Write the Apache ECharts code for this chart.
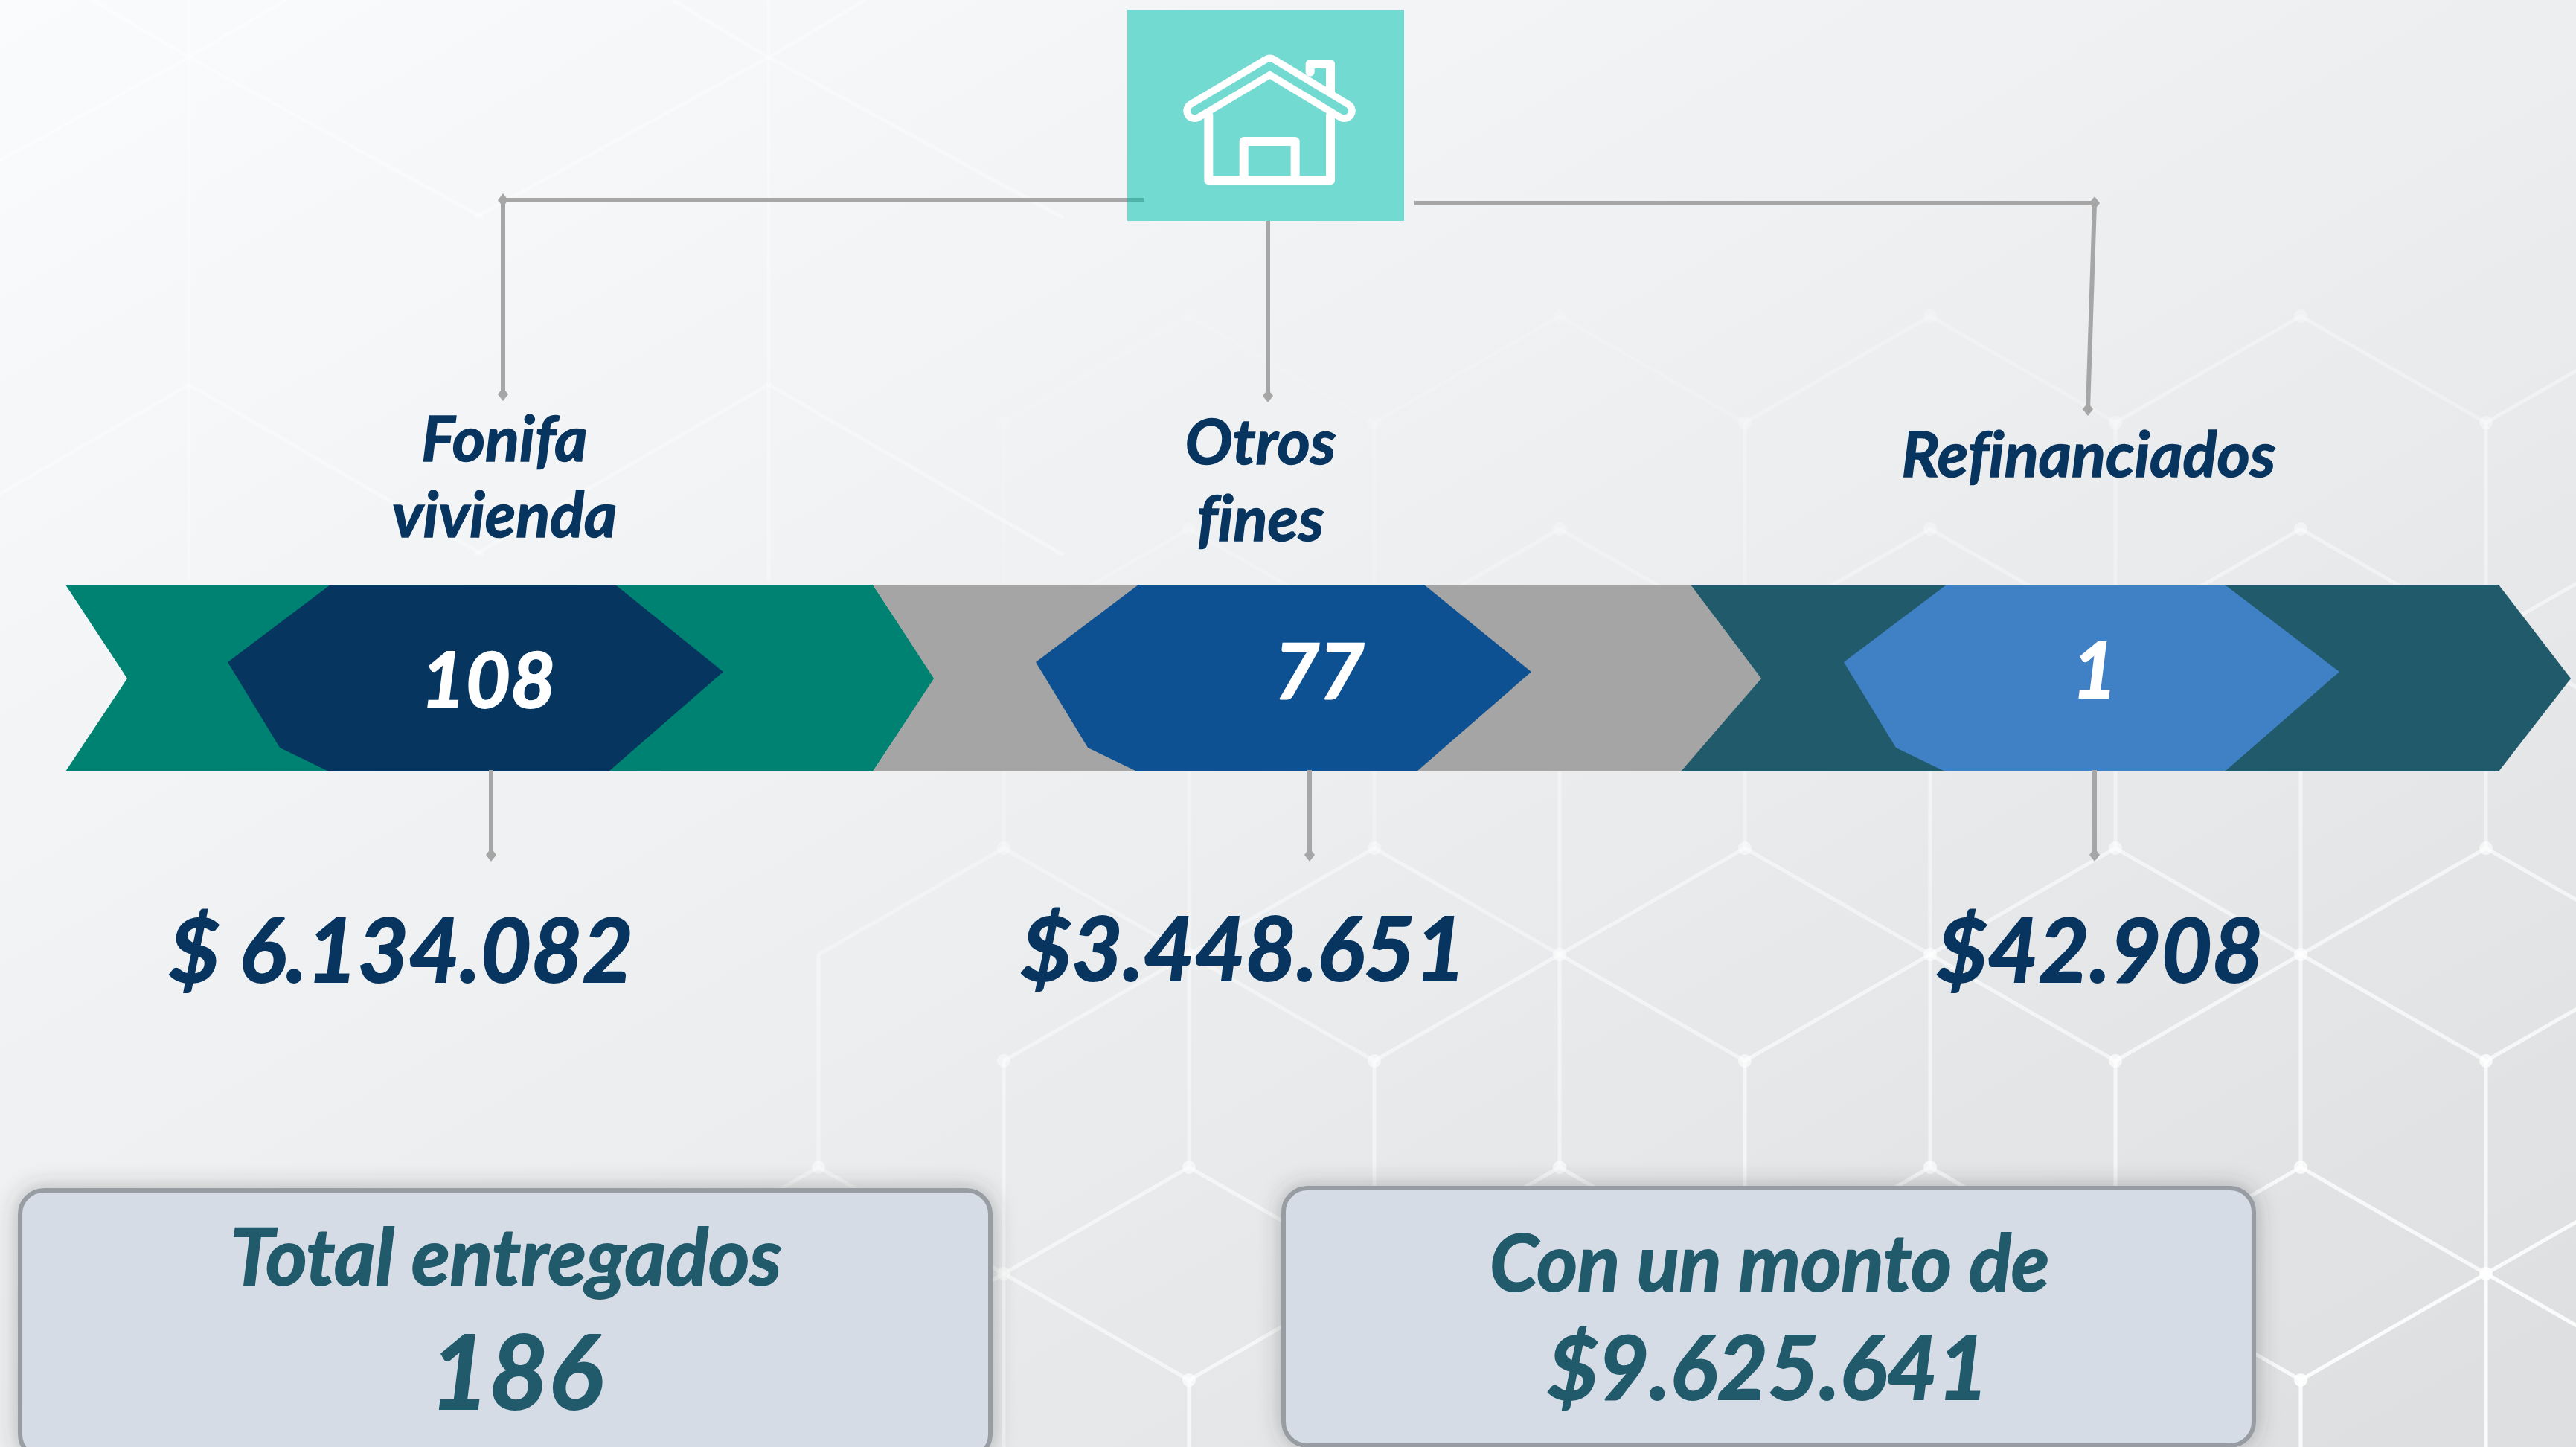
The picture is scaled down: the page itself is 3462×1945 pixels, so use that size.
<!DOCTYPE html>
<html>
<head>
<meta charset="utf-8">
<title>Créditos entregados</title>
<script src="https://cdn.jsdelivr.net/npm/echarts@6/dist/echarts.min.js"></script>
<style>
    html, body { margin: 0; padding: 0; background: #eee; }
    #chart { width: 3462px; height: 1945px; }
    #chart text { font-variant-ligatures: none !important; }
</style>
</head>
<body>
<div id="chart"></div>
<script>
// datos
var categories = ['Fonifa\nvivienda', 'Otros\nfines', 'Refinanciados'];
var counts = [108, 77, 1];
var amounts = ['$ 6.134.082', '$3.448.651', '$42.908'];
var totalLabels = ['Total entregados', 'Con un monto de'];
var totalValues = ['186', '$9.625.641'];

// colores
var CHEVRON_COLORS = ['#008272', '#a5a5a5', '#215a6b'];
var HEX_COLORS = ['#06365f', '#0e5192', '#3f81c4'];
var NAVY = '#07355f';
var TEAL = '#215a6b';
var GREY = '#a6a6a6';
var FONT = 'Lato';

// posiciones relativas a la banda de cada categoria
var TOP = 786, BOTTOM = 1037, MID = 912;
var CHEVRON_LEFT = [-551, -552, -539];   // esquina izq arriba
var CHEVRON_LEFT_LOW = [-551, -552, -552];
var CHEVRON_NOTCH = [-468, -470, -444];
var CHEVRON_RIGHT = [534, 547, 547];
var CHEVRON_RIGHT_LOW = [534, 537, 547];
var CHEVRON_TIP = [617, 642, 644];
var HEX_TOP_RIGHT = [188, 189, 179];
var DROP_TOP_X = [37, -21, -5];
var DROP_TOP_END = [530, 532, 550];
var DROP_BOTTOM_X = [21, 35, 4];
var COUNT_X = [17, 48, 4];
var COUNT_Y = [910, 899, 897];
var LABEL_X = [39, -31, -4];
var LABEL_Y = [[587, 689], [591, 694], [608]];
var AMOUNT_X = [-100, -54, 11];
var AMOUNT_Y = [1274, 1272, 1274];

function diamond(x, y) {
    return {
        type: 'polygon',
        shape: { points: [[x - 7, y], [x, y - 9], [x + 7, y], [x, y + 9]] },
        style: { fill: GREY }
    };
}

function seg(x1, y1, x2, y2) {
    return {
        type: 'line',
        shape: { x1: x1, y1: y1, x2: x2, y2: y2 },
        style: { stroke: GREY, lineWidth: 6 }
    };
}

function txt(s, x, y, size, fill, bold) {
    return {
        type: 'text',
        x: x, y: y,
        style: {
            text: s, fill: fill, fontFamily: FONT, fontSize: size,
            fontWeight: 'bold', fontStyle: 'italic',
            stroke: fill, lineWidth: bold || 2,
            align: 'center', verticalAlign: 'middle'
        }
    };
}

function renderBand(params, api) {
    var i = api.value(0);
    var c = api.coord([i, 0])[0];
    var kids = [];

    kids.push({
        type: 'polygon',
        shape: { points: [
            [c + CHEVRON_LEFT[i], TOP], [c + CHEVRON_RIGHT[i], TOP], [c + CHEVRON_TIP[i], MID],
            [c + CHEVRON_RIGHT_LOW[i], BOTTOM], [c + CHEVRON_LEFT_LOW[i], BOTTOM], [c + CHEVRON_NOTCH[i], MID]
        ] },
        style: { fill: CHEVRON_COLORS[i] }
    });
    kids.push({
        type: 'polygon',
        shape: { points: [
            [c - 333, 890], [c - 195, TOP], [c + HEX_TOP_RIGHT[i], TOP], [c + 333, 903],
            [c + 179, BOTTOM], [c - 197, BOTTOM], [c - 263, 1005]
        ] },
        style: { fill: HEX_COLORS[i] }
    });

    var tx = c + DROP_TOP_X[i];
    var tEnd = DROP_TOP_END[i];
    var tStart = i === 0 ? 269 : (i === 1 ? 297 : 273);
    var tStartX = i === 2 ? 2815 : tx;
    kids.push(seg(tStartX, tStart, tx, tEnd));
    kids.push(diamond(tx, tEnd));
    if (i !== 1) kids.push(diamond(tStartX, tStart));

    var bx = c + DROP_BOTTOM_X[i];
    kids.push(seg(bx, BOTTOM - 2, bx, 1147));
    kids.push(diamond(bx, 1149));

    kids.push(txt(String(api.value(1)), c + COUNT_X[i], COUNT_Y[i], 104, '#ffffff'));

    categories[i].split('\n').forEach(function (line, n) {
        kids.push(txt(line, c + LABEL_X[i], LABEL_Y[i][n], 85, NAVY, 1.5));
    });
    kids.push(txt(amounts[i], c + AMOUNT_X[i], AMOUNT_Y[i], 118, NAVY));

    return { type: 'group', children: kids };
}

// malla hexagonal del fondo
function alpha(x, y) {
    return Math.min(0.85, Math.max(0.06, x * 0.00015 + y * 0.0004 - 0.33));
}

function bgLine(x1, y1, x2, y2, a) {
    return {
        type: 'line', z: 0, silent: true,
        shape: { x1: x1, y1: y1, x2: x2, y2: y2 },
        style: { stroke: '#ffffff', lineWidth: 5, opacity: a === undefined ? alpha(x1, y1) : a }
    };
}

function latticeElements() {
    var out = [];
    var X0 = 2345, DX = 249, Y0 = 1140, DY = 143;
    function px(i) { return X0 + i * DX; }
    function py(j) { return Y0 + j * DY; }
    for (var i = -5; i <= 5; i++) {
        for (var j = -5; j <= 6; j++) {
            if ((i + j) % 2 !== 0) continue;
            if (i < -4 && j < 3) continue;
            var x = px(i), y = py(j);
            var m = ((j % 3) + 3) % 3;
            // filas con diagonales: dos de cada tres
            if (m !== 2) {
                out.push(bgLine(x, y, px(i + 1), py(j + 1)));
                out.push(bgLine(x, y, px(i - 1), py(j + 1)));
            }
            if (m === 2) out.push(bgLine(x, y, x, py(j + 2)));
            if (m === 0 && j > -3) out.push(bgLine(x, py(j - 2), x, y));
            out.push({
                type: 'circle', z: 0, silent: true,
                shape: { cx: x, cy: y, r: 9 },
                style: { fill: '#ffffff', opacity: alpha(x, y) }
            });
        }
    }
    // malla mas grande y tenue arriba a la izquierda
    var AX = [254, 1033];
    AX.forEach(function (x) {
        out.push(bgLine(x, 0, x, 780, 0.35));
        out.push(bgLine(x, 77, x - 396, 293, 0.35));
        out.push(bgLine(x, 77, x + 396, 293, 0.35));
        out.push(bgLine(x, 77, x - 130, 0, 0.35));
        out.push(bgLine(x, 77, x + 130, 0, 0.35));
        out.push(bgLine(x, 517, x - 396, 746, 0.35));
        out.push(bgLine(x, 517, x + 396, 746, 0.35));
    });
    return out;
}

// tarjetas de totales
function totalCard(x, y, w, h) {
    return {
        type: 'rect', z: 1, silent: true,
        shape: { x: x, y: y, width: w, height: h, r: 32 },
        style: {
            fill: '#d5dce6', stroke: '#989da3', lineWidth: 6,
            shadowBlur: 30, shadowColor: 'rgba(60,60,60,0.35)'
        }
    };
}

function textEl(s, x, y, size, fill) {
    var t = txt(s, x, y, size, fill);
    t.z = 3;
    t.silent = true;
    return t;
}

function seg2(x1, y1, x2, y2, color) {
    return {
        type: 'line', z: 3, silent: true,
        shape: { x1: x1, y1: y1, x2: x2, y2: y2 },
        style: { stroke: color, lineWidth: 6 }
    };
}

// icono de la casa, coordenadas medidas dentro de la caja
function iconElements() {
    var ox = 1480, k = 1 / 3;
    function p(list) {
        return list.map(function (a) { return [ox + a[0] * k, a[1] * k]; });
    }
    function stroke(points, color, w) {
        return {
            type: 'polyline', z: 3, silent: true,
            shape: { points: p(points) },
            style: { stroke: color, fill: null, lineWidth: w, lineJoin: 'round', lineCap: 'round' }
        };
    }
    var BOX = '#73dad1';
    return [
        {
            type: 'rect', z: 2, silent: true,
            shape: { x: 1515, y: 13, width: 372, height: 284 },
            style: { fill: BOX }
        },
        seg2(1515, 269, 1538, 269, '#4fb3a9'),
        stroke([[433, 465], [433, 727], [924, 727], [924, 465]], '#ffffff', 12),
        stroke([[575, 715], [575, 570], [782, 570], [782, 715]], '#ffffff', 12),
        stroke([[842, 290], [842, 258], [924, 258], [924, 370]], '#ffffff', 12),
        stroke([[376, 447], [680, 266], [980, 447]], '#ffffff', 30),
        stroke([[376, 447], [680, 266], [980, 447]], BOX, 11)
    ];
}

var graphics = latticeElements().concat([
    seg2(676, 269, 1515, 269, GREY),
    seg2(1901, 273, 2815, 273, GREY),
    seg2(1704, 297, 1704, 300, GREY),
    totalCard(27, 1600, 1304, 360),
    totalCard(1725, 1597, 1304, 346),
    textEl(totalLabels[0], 680, 1686, 106, TEAL),
    textEl(totalValues[0], 694, 1841, 137, TEAL),
    textEl(totalLabels[1], 2378, 1694, 105, TEAL),
    textEl(totalValues[1], 2376, 1835, 118, TEAL)
]).concat(iconElements());

var myChart = echarts.init(document.getElementById('chart'), null, { renderer: 'svg' });
myChart.setOption({
    animation: false,
    backgroundColor: {
        type: 'linear', x: 0, y: 0, x2: 1, y2: 1,
        colorStops: [
            { offset: 0, color: '#fafbfc' },
            { offset: 0.5, color: '#eceef0' },
            { offset: 1, color: '#dcdee0' }
        ]
    },
    grid: { left: 96, top: 0, width: 3258, height: 1945 },
    xAxis: { type: 'category', data: categories, show: false },
    yAxis: { type: 'value', min: 0, max: 1945, inverse: true, show: false },
    graphic: graphics,
    series: [{
        type: 'custom',
        z: 4,
        silent: true,
        clip: false,
        encode: { x: 0, y: 1 },
        data: counts.map(function (v, i) { return [i, v]; }),
        renderItem: renderBand
    }]
});
</script>
</body>
</html>
